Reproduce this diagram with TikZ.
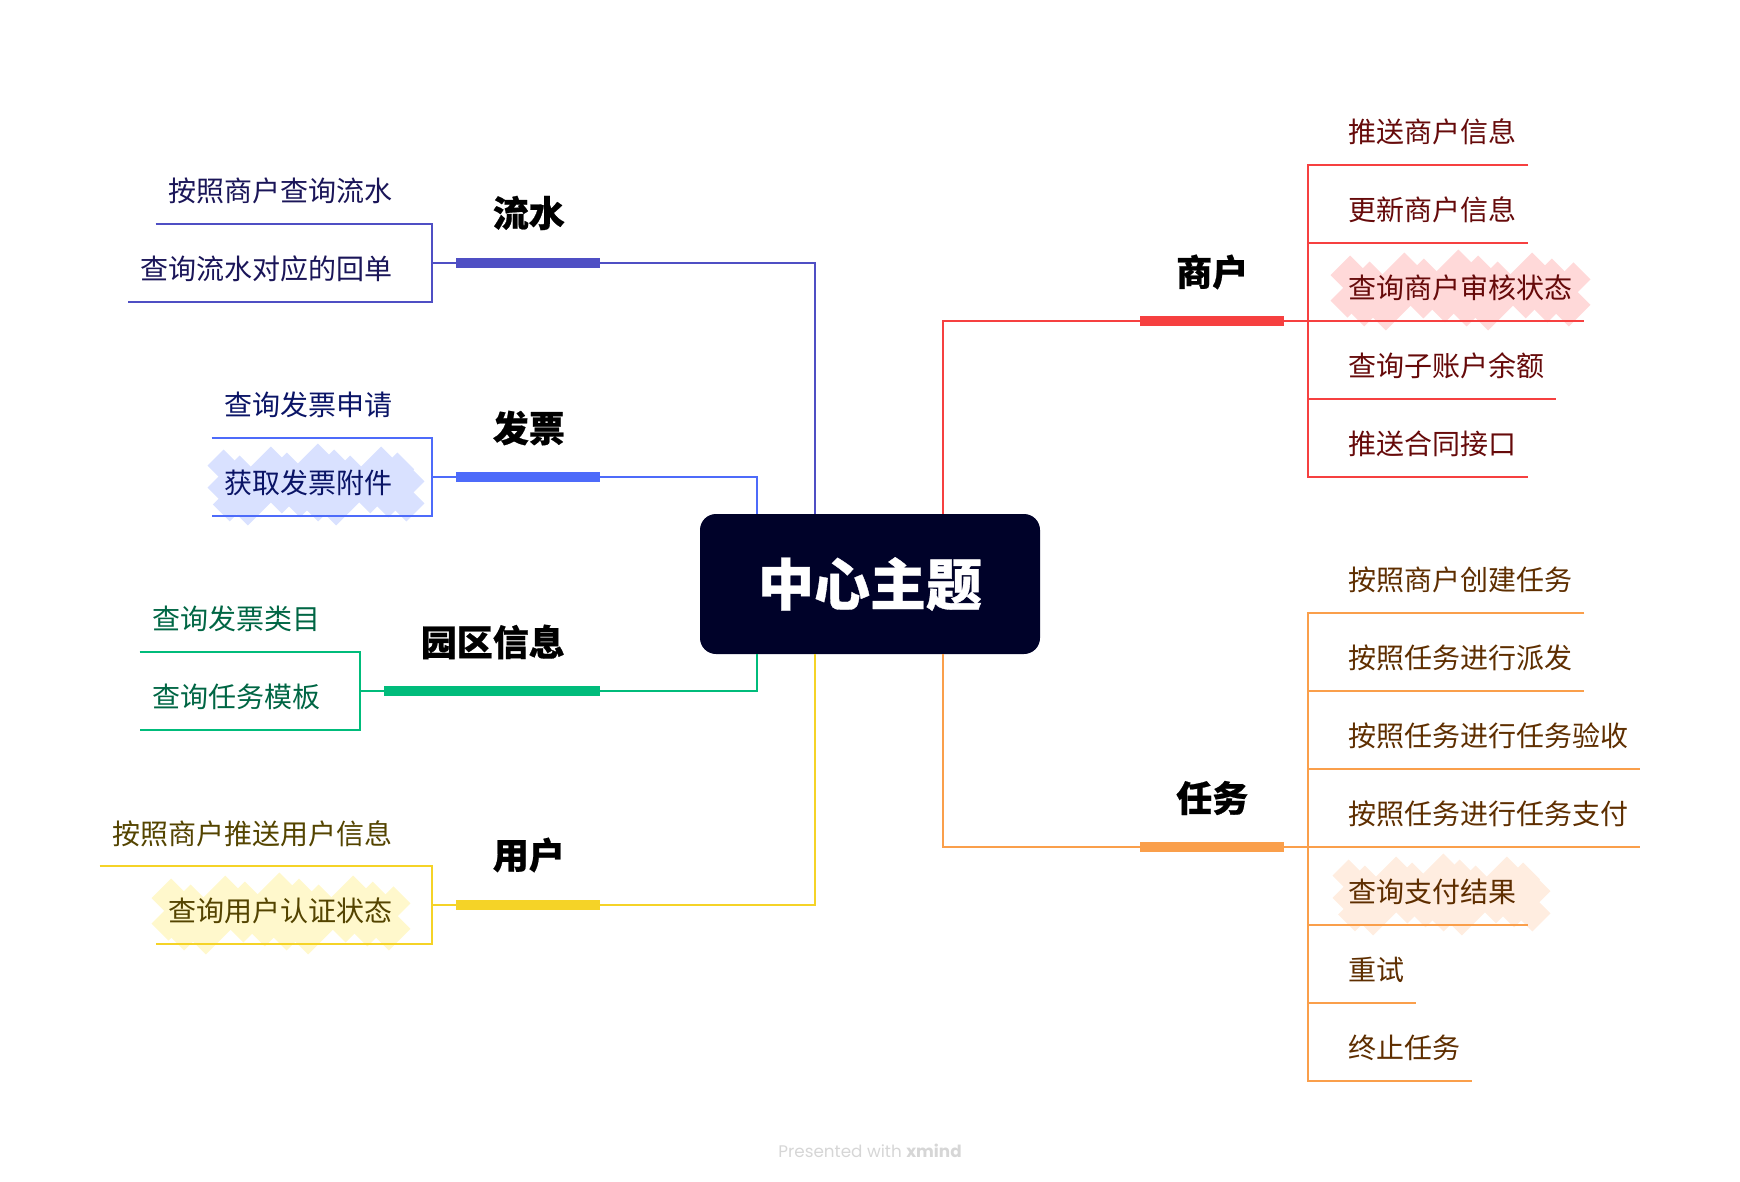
\documentclass[tikz,border=0pt]{standalone}
\usepackage{fontspec}
\setmainfont{Noto Sans CJK SC}
\newfontfamily\headfont{Noto Sans CJK SC}[UprightFont=* Medium, FakeBold=0.6]
\newfontfamily\footfont{Poppins}
\usepackage{tikz}

\definecolor{ink}{HTML}{000229}
\definecolor{cflow}{HTML}{4F4FC4}
\definecolor{cbill}{HTML}{4D6BFA}
\definecolor{cpark}{HTML}{00BC7B}
\definecolor{cuser}{HTML}{F5D327}
\definecolor{cshop}{HTML}{F64040}
\definecolor{ctask}{HTML}{FA9F4B}
\definecolor{tflow}{HTML}{1A1558}
\definecolor{tbill}{HTML}{0A1466}
\definecolor{tpark}{HTML}{006644}
\definecolor{tuser}{HTML}{544400}
\definecolor{tshop}{HTML}{660A0A}
\definecolor{ttask}{HTML}{5E2E00}
\definecolor{mbill}{HTML}{D9E1FF}
\definecolor{muser}{HTML}{FFF8CC}
\definecolor{mshop}{HTML}{FFD9D9}
\definecolor{mtask}{HTML}{FFEDE0}

\tikzset{
  root/.style={fill=ink, rounded corners=16pt, minimum width=340pt, minimum height=140pt, inner sep=0pt, text=white, font=\headfont\fontsize{56}{56}\selectfont\bfseries},
  bar/.style={minimum width=#1, minimum height=10pt, inner sep=0pt},
  head/.style={inner sep=0pt, font=\headfont\fontsize{36}{36}\selectfont\bfseries},
  subr/.style={anchor=south west, minimum height=65pt, inner xsep=12pt, inner ysep=0pt, font=\fontsize{28}{28}\selectfont},
  subl/.style={anchor=south east, xshift=1pt, minimum height=65pt, inner xsep=12.5pt, inner ysep=0pt, font=\fontsize{28}{28}\selectfont},
  link/.style={line width=2pt}
}

% marker strokes behind a label: colour, left, right, top, bottom
\newcommand{\marker}[5]{
  \foreach \i in {1,...,11} {
    \pgfmathsetmacro{\ps}{#2+#4+18+(#3-#2+#5-#4-36)*\i/12}
    \pgfmathsetmacro{\pt}{#4+9+mod(\i*7,5)*3}
    \pgfmathsetmacro{\pb}{#5-9-mod(\i*3,4)*4}
    \pgfmathsetmacro{\xa}{max(#2+9,\ps-\pb)}
    \pgfmathsetmacro{\xb}{min(#3-9,\ps-\pt)}
    \draw[#1, line width=24pt] (\xa,\ps-\xa) -- (\xb,\ps-\xb);
  }
}

\begin{document}
\begin{tikzpicture}[x=1pt, y=-1pt]

\useasboundingbox (0,0) rectangle (1740,1182);

% markers

\marker{mbill}{207}{425}{443}{526}
\marker{muser}{151}{411}{872}{955}
\marker{mshop}{1330}{1591}{249}{331}
\marker{mtask}{1332}{1551}{853}{936}

% attach points on the centre box

\coordinate (cbill) at (757,514);
\coordinate (cflow) at (815,514);
\coordinate (cshop) at (943,514);
\coordinate (cpark) at (757,654);
\coordinate (cuser) at (815,654);
\coordinate (ctask) at (943,654);

% main topics

\node[root] (c) at (870,584) {中心主题};

\node[bar=144pt, fill=cflow] (f) at (528,263.5) {};
\node[bar=144pt, fill=cbill] (b) at (528,477) {};
\node[bar=216pt, fill=cpark] (p) at (492,691) {};
\node[bar=144pt, fill=cuser] (u) at (528,905) {};
\node[bar=144pt, fill=cshop] (s) at (1212,321) {};
\node[bar=144pt, fill=ctask] (t) at (1212,847) {};

\node[head, anchor=east] (fh) at (565,213) {流水};
\node[head, anchor=east] (bh) at (565,428) {发票};
\node[head, anchor=east] (ph) at (565,642) {园区信息};
\node[head, anchor=east] (uh) at (565,855) {用户};
\node[head, anchor=west] (sh) at (1176,272) {商户};
\node[head, anchor=west] (th) at (1176,798) {任务};

% sub topics

\node[subl, text=tflow] (f1) at (404,224) {按照商户查询流水};
\node[subl, text=tflow] (f2) at (404,302) {查询流水对应的回单};
\node[subl, text=tbill] (b1) at (404,438) {查询发票申请};
\node[subl, text=tbill] (b2) at (404,516) {获取发票附件};
\node[subl, text=tpark] (p1) at (332,652) {查询发票类目};
\node[subl, text=tpark] (p2) at (332,730) {查询任务模板};
\node[subl, text=tuser] (u1) at (404,866) {按照商户推送用户信息};
\node[subl, text=tuser] (u2) at (404,944) {查询用户认证状态};

\node[subr, text=tshop] (s1) at (1336,165) {推送商户信息};
\node[subr, text=tshop] (s2) at (1336,243) {更新商户信息};
\node[subr, text=tshop] (s3) at (1336,321) {查询商户审核状态};
\node[subr, text=tshop] (s4) at (1336,399) {查询子账户余额};
\node[subr, text=tshop] (s5) at (1336,477) {推送合同接口};

\node[subr, text=ttask] (t1) at (1336,613) {按照商户创建任务};
\node[subr, text=ttask] (t2) at (1336,691) {按照任务进行派发};
\node[subr, text=ttask] (t3) at (1336,769) {按照任务进行任务验收};
\node[subr, text=ttask] (t4) at (1336,847) {按照任务进行任务支付};
\node[subr, text=ttask] (t5) at (1336,925) {查询支付结果};
\node[subr, text=ttask] (t6) at (1336,1003) {重试};
\node[subr, text=ttask] (t7) at (1336,1081) {终止任务};

% trunks

\coordinate (fv) at (432,224);
\coordinate (bv) at (432,438);
\coordinate (pv) at (360,652);
\coordinate (uv) at (432,866);
\coordinate (sv) at (1308,165);
\coordinate (tv) at (1308,613);

% edges

\draw[link, cflow] (f.east) -| (cflow);
\draw[link, cbill] (b.east) -| (cbill);
\draw[link, cpark] (p.east) -| (cpark);
\draw[link, cuser] (u.east) -| (cuser);
\draw[link, cshop] (s.west) -| (cshop);
\draw[link, ctask] (t.west) -| (ctask);

\draw[link, cflow] (f.west) -- (fv |- f.west);
\draw[link, cflow] (f1.south west) -- (fv) -- (fv |- f2.south) -- (f2.south west);
\draw[link, cbill] (b.west) -- (bv |- b.west);
\draw[link, cbill] (b1.south west) -- (bv) -- (bv |- b2.south) -- (b2.south west);
\draw[link, cpark] (p.west) -- (pv |- p.west);
\draw[link, cpark] (p1.south west) -- (pv) -- (pv |- p2.south) -- (p2.south west);
\draw[link, cuser] (u.west) -- (uv |- u.west);
\draw[link, cuser] (u1.south west) -- (uv) -- (uv |- u2.south) -- (u2.south west);

\draw[link, cshop] (s.east) -- (sv |- s.east);
\draw[link, cshop] (s1.south east) -- (sv) -- (sv |- s5.south) -- (s5.south east);
\draw[link, cshop] (sv |- s2.south) -- (s2.south east);
\draw[link, cshop] (sv |- s3.south) -- (s3.south east);
\draw[link, cshop] (sv |- s4.south) -- (s4.south east);

\draw[link, ctask] (t.east) -- (tv |- t.east);
\draw[link, ctask] (t1.south east) -- (tv) -- (tv |- t7.south) -- (t7.south east);
\draw[link, ctask] (tv |- t2.south) -- (t2.south east);
\draw[link, ctask] (tv |- t3.south) -- (t3.south east);
\draw[link, ctask] (tv |- t4.south) -- (t4.south east);
\draw[link, ctask] (tv |- t5.south) -- (t5.south east);
\draw[link, ctask] (tv |- t6.south) -- (t6.south east);

% footer

\node[inner sep=0pt, text=black!16, font=\footfont\fontsize{16.8}{17}\selectfont] (pw) at (870,1151) {Presented with \textbf{xmind}};

\end{tikzpicture}
\end{document}
